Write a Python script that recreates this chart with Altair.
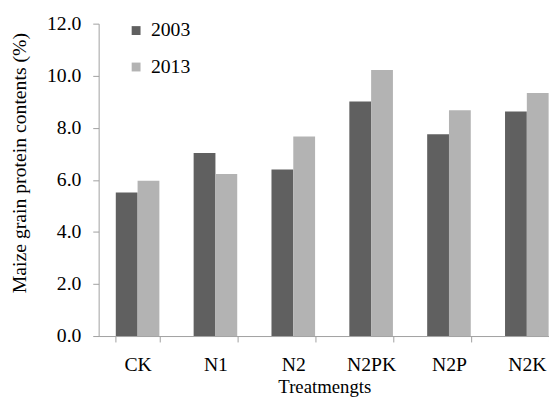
import altair as alt
import pandas as pd

treatments = ["CK", "N1", "N2", "N2PK", "N2P", "N2K"]
years = ["2003", "2013"]
v2003 = [5.51, 7.03, 6.40, 9.01, 7.75, 8.63]
v2013 = [5.97, 6.22, 7.67, 10.22, 8.67, 9.34]

rows = []
for t, a, b in zip(treatments, v2003, v2013):
    rows.append({"Treatment": t, "Year": "2003", "Value": a})
    rows.append({"Treatment": t, "Year": "2013", "Value": b})
df = pd.DataFrame(rows)

font = "Liberation Serif"

chart = alt.Chart(df).mark_bar().encode(
    x=alt.X("Treatment:N", sort=treatments,
            scale=alt.Scale(range=[0, 474], paddingInner=0.44, paddingOuter=0.22),
            axis=alt.Axis(title="Treatmengts", labelAngle=0, labelFontSize=20,
                          labelFont=font, labelColor="black", labelPadding=13,
                          titleFont=font, titleFontSize=19, titleFontWeight="normal",
                          titleColor="black", titleX=229, titleY=51, titleBaseline="middle",
                          domainColor="#a0a0a0", tickColor="#a0a0a0", tickSize=6,
                          tickBand="extent", grid=False)),
    xOffset=alt.XOffset("Year:N", sort=years),
    y=alt.Y("Value:Q", scale=alt.Scale(domain=[0, 12], nice=False),
            axis=alt.Axis(title="Maize grain protein contents (%)", values=[0, 2, 4, 6, 8, 10, 12],
                          format=".1f", labelFontSize=20, labelFont=font, labelColor="black",
                          labelPadding=12, titleFont=font, titleFontSize=20,
                          titleFontWeight="normal", titleColor="black",
                          titleX=-80, titleY=141, titleAngle=-90, titleAlign="center",
                          titleBaseline="middle",
                          domainColor="#a0a0a0", tickColor="#a0a0a0", tickSize=6, grid=False)),
    color=alt.Color("Year:N", sort=years,
                    scale=alt.Scale(domain=years, range=["#606060", "#b3b3b3"]),
                    legend=alt.Legend(title=None, orient="none", legendX=28, legendY=-3,
                                      symbolType="square", symbolSize=81, symbolStrokeWidth=0,
                                      labelFont=font, labelFontSize=20, labelColor="black",
                                      rowPadding=17, labelOffset=5)),
).properties(
    width=457, height=317,
    autosize=alt.AutoSizeParams(type="none"),
    padding={"left": 92, "top": 13, "right": 0, "bottom": 61},
).configure_view(stroke=None)

chart.save("out.html", embed_options={"renderer": "svg", "actions": False})
